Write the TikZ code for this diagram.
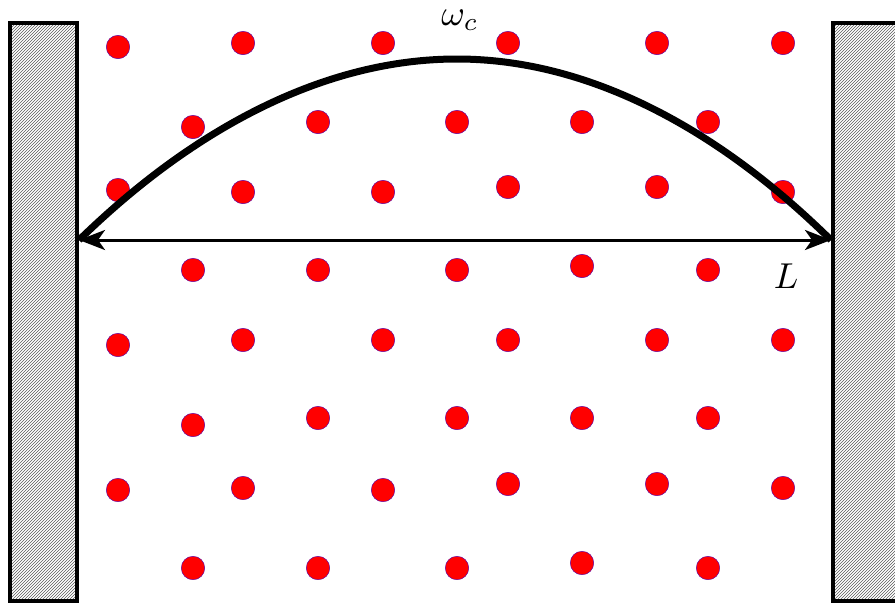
\documentclass[tikz,border=0pt]{standalone}
\usetikzlibrary{patterns,arrows.meta}
\begin{document}
\begin{tikzpicture}[x=1pt,y=-1pt,
  wall/.style={draw=black,line width=4.5pt,pattern=north east lines,pattern color=gray!70!black},
  dot/.style={circle,fill=red,draw=blue!70!red,line width=0.4pt,minimum size=23.5pt,inner sep=0pt},
  lbl/.style={scale=3.6,inner sep=0pt}]
\useasboundingbox (0,0) rectangle (895,603);
\begin{scope}
\clip (0,0) rectangle (895,603);
\draw[wall] (10,23) rectangle (77,601);
\draw[wall] (833,23) rectangle (905,601);
\end{scope}
% dots
\foreach \i/\x/\y in {
 a1/118/47, a2/243/43, a3/383/43, a4/508/43, a5/657/43, a6/783/43,
 b1/193/127, b2/318/122, b3/457/122, b4/582/122, b5/708/122,
 c1/118/190, c2/243/192, c3/383/192, c4/508/187, c5/657/187, c6/783/192,
 d1/193/270, d2/318/270, d3/457/270, d4/582/266, d5/708/270,
 e1/118/345, e2/243/340, e3/383/340, e4/508/340, e5/657/340, e6/783/340,
 f1/193/425, f2/318/418, f3/457/418, f4/582/418, f5/708/418,
 g1/118/490, g2/243/488, g3/383/490, g4/508/484, g5/657/484, g6/783/488,
 h1/193/568, h2/318/568, h3/457/568, h4/582/563, h5/708/568}
 \node[dot] (\i) at (\x,\y) {};
\coordinate (lw) at (79,240);
\coordinate (rw) at (831,240);
\coordinate (top) at (457,59);
\draw[line width=7pt] (lw) parabola bend (top) (rw);
\draw[line width=3pt,{Stealth[length=26pt,width=20pt,inset=7pt]}-{Stealth[length=26pt,width=20pt,inset=7pt]}] (lw) -- (rw);
\node[lbl] (L) at (786,276) {$L$};
\node[lbl] (w) at (460,20) {$\omega_c$};
\end{tikzpicture}
\end{document}
